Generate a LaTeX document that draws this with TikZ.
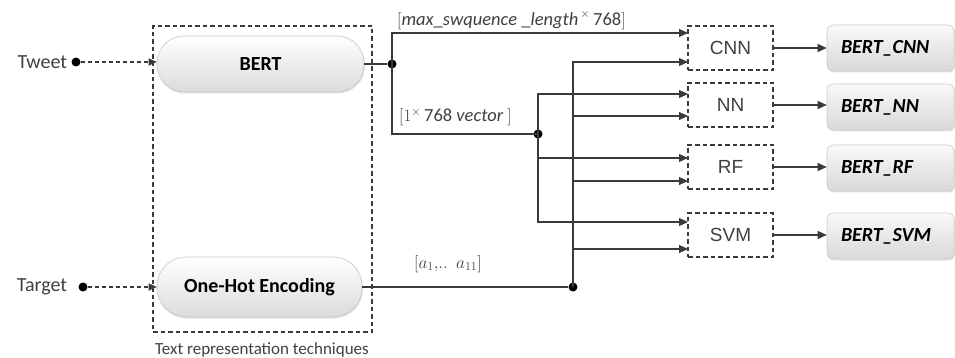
\documentclass[tikz,border=0pt]{standalone}
\usepackage{fontspec}
\setmainfont{Carlito}
\newfontfamily\arialf{Liberation Sans}
\usetikzlibrary{arrows.meta,shadows,positioning}
\definecolor{ln}{HTML}{3A3A3A}
\definecolor{tx}{HTML}{404040}
\tikzset{
  pill/.style={rectangle, rounded corners=27pt, minimum width=207pt, minimum height=56pt,
    top color=white, bottom color=gray!28, draw=gray!45, line width=0.6pt,
    font=\fontsize{20}{22}\selectfont\bfseries, text=black,
    drop shadow={opacity=0.22, shadow xshift=1pt, shadow yshift=-1.5pt}},
  clsbox/.style={rectangle, draw=ln, line width=1.1pt, dash pattern=on 4.5pt off 3pt,
    minimum width=85pt, minimum height=44pt, font=\arialf\fontsize{19}{21}\selectfont, text=tx},
  resbox/.style={rectangle, rounded corners=6pt, minimum width=127pt, minimum height=46pt,
    text width=99pt, inner xsep=14pt, align=left,
    top color=gray!5, bottom color=gray!30, draw=gray!40, line width=0.6pt,
    drop shadow={opacity=0.22, shadow xshift=1pt, shadow yshift=-1.5pt},
    font=\fontsize{20}{22}\selectfont\bfseries\itshape, text=black},
  dot/.style={circle, fill=black, inner sep=0pt, minimum size=9pt},
  conn/.style={draw=ln, line width=1.1pt},
  arr/.style={conn, -{Triangle[length=9pt,width=8pt]}},
  dasharr/.style={draw=ln, line width=1.1pt, dash pattern=on 4pt off 3pt, -{Triangle[length=8pt,width=7pt]}},
  lbl/.style={font=\fontsize{20}{22}\selectfont, text=tx, inner sep=0pt},
  mlbl/.style={font=\fontsize{18.5}{20}\selectfont, text=tx, inner sep=0pt, anchor=west},
}
\begin{document}
\begin{tikzpicture}[x=1pt, y=-1pt]
\useasboundingbox (0,0) rectangle (955,358);

% frame of text representation techniques
\node[draw=ln, line width=1.1pt, dash pattern=on 4.5pt off 3pt, minimum width=219pt, minimum height=306pt, inner sep=0pt] (frame) at (262.5,179) {};
\node[font=\fontsize{17}{19}\selectfont, text=tx] (framelbl) at (262,350) {Text representation techniques};

% encoders
\node[pill] (bert) at (260.5,64) {BERT};
\node[pill, minimum width=205pt, minimum height=60pt, rounded corners=29pt] (onehot) at (259.5,287) {One-Hot Encoding};

% inputs
\node[dot] (tdot) at (76,62) {};
\node[lbl, left=4pt of tdot] (tweet) {Tweet};
\node[dot] (gdot) at (83,287) {};
\node[lbl, left=11pt of gdot] (target) {Target};
\draw[dasharr] (tdot) -- (bert.west |- tdot);
\draw[dasharr] (gdot) -- (onehot.west |- gdot);

% classifiers
\node[clsbox] (cnn) at (730.5,48) {CNN};
\node[clsbox] (nn)  at (730.5,105) {NN};
\node[clsbox] (rf)  at (730.5,167) {RF};
\node[clsbox] (svm) at (730.5,235) {SVM};

% results
\node[resbox] (rcnn) at (890.5,48) {BERT\_CNN};
\node[resbox] (rnn)  at (890.5,107) {BERT\_NN};
\node[resbox] (rrf)  at (890.5,168) {BERT\_RF};
\node[resbox] (rsvm) at (890.5,236) {BERT\_SVM};

% junctions
\node[dot] (bdot) at (392,64) {};
\node[dot] (vdot) at (538,134) {};
\node[dot] (odot) at (573,287) {};

% input points of classifiers
\coordinate (cnnA) at (688,33);
\coordinate (cnnB) at (688,62);
\coordinate (nnA) at (688,94);
\coordinate (nnB) at (688,116);
\coordinate (rfA) at (688,158);
\coordinate (rfB) at (688,181);
\coordinate (svmA) at (688,222);
\coordinate (svmB) at (688,249);

% BERT outputs
\draw[conn] (bert.east |- bdot) -- (bdot);
\draw[arr] (bdot.center) |- (cnnA);
\draw[conn] (bdot.center) |- (vdot.center);
\draw[arr] (vdot.center) |- (nnA);
\draw[arr] (vdot.center) |- (rfA);
\draw[arr] (vdot.center) |- (svmA);

% One-hot outputs
\draw[conn] (onehot.east |- odot) -- (odot);
\draw[arr] (odot.center) |- (cnnB);
\draw[arr] (odot.center) |- (nnB);
\draw[arr] (odot.center) |- (rfB);
\draw[arr] (odot.center) |- (svmB);

% classifier outputs
\draw[arr] (cnn.east) -- (rcnn.west |- cnn.east);
\draw[arr] (nn.east) -- (rnn.west |- nn.east);
\draw[arr] (rf.east) -- (rrf.west |- rf.east);
\draw[arr] (svm.east) -- (rsvm.west |- svm.east);

% labels
\node[mlbl] (l1) at (397,20) {$[\mathit{max\_swquence}\ \mathit{\_length}^{\,\times}\,\mbox{768}]$};
\node[mlbl] (l2) at (399,117) {$[1^{\times}\,\mbox{768}\ \mathit{vector}\ ]$};
\node[mlbl] (l3) at (414,264) {$[a_1,\!..\ \ a_{11}]$};
\end{tikzpicture}
\end{document}
